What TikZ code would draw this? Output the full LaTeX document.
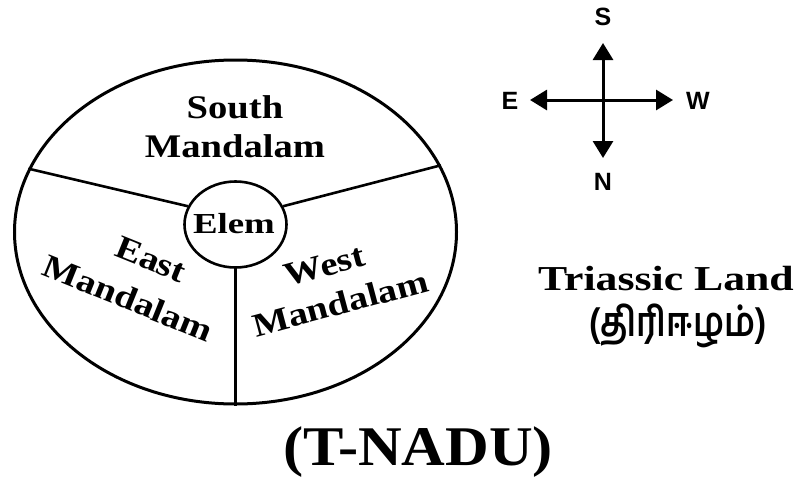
\documentclass[tikz,border=0pt]{standalone}
\usepackage{fontspec}
\setmainfont{Liberation Serif}
\newfontfamily\compassfont{Liberation Sans}
\newfontfamily\tamilfont[Script=Tamil]{Hind Madurai}
\usetikzlibrary{shapes.geometric,arrows.meta}
\newcommand\hstretch[2]{\scalebox{#1}[1]{#2}}
\begin{document}
\begin{tikzpicture}[x=1pt,y=-1pt,
  region/.style={font=\bfseries\fontsize{33}{39}\selectfont, inner sep=0pt, align=center},
  elemtext/.style={font=\bfseries\fontsize{29}{32}\selectfont, inner sep=0pt},
  compass/.style={font=\compassfont\bfseries\fontsize{25}{27}\selectfont, inner sep=0pt},
  arr/.style={line width=3pt, -{Triangle[length=17pt,width=20pt]}},
  divider/.style={line width=2.6pt}]
\useasboundingbox (0,0) rectangle (800,479);
\fill[white] (0,0) rectangle (800,479);

% main land
\node[draw, ellipse, line width=3pt, minimum width=442pt, minimum height=344pt, inner sep=0pt] (land) at (235.5,232) {};
\node[draw, ellipse, line width=2.6pt, minimum width=102pt, minimum height=86pt, inner sep=0pt] (hub) at (235.5,224.5) {};
\draw[divider] (hub.159) -- (land.163);
\draw[divider] (hub.21) -- (land.18);
\draw[divider] (hub.south) -- (land.south);

\node[elemtext, anchor=base] (elem) at (234,233) {\hstretch{1.27}{Elem}};
\node[region, anchor=base] (south) at (235,157) {\hstretch{1.17}{South}\\\hstretch{1.17}{Mandalam}};
\node[region, rotate=-22, font=\bfseries\fontsize{33}{45}\selectfont] (east) at (136.5,278)
  {\hspace*{13pt}\hstretch{1.17}{East}\\\hstretch{1.17}{Mandalam}};
\node[region, rotate=15, font=\bfseries\fontsize{33}{41}\selectfont] (west) at (335,284)
  {\hstretch{1.17}{West}\hspace*{11pt}\\\hstretch{1.17}{Mandalam}};

% compass
\coordinate (ctr) at (603,100);
\coordinate (tipS) at (603,43);
\coordinate (tipN) at (603,158);
\coordinate (tipE) at (530,100);
\coordinate (tipW) at (673,100);
\draw[arr] (ctr) -- (tipS);
\draw[arr] (ctr) -- (tipN);
\draw[arr] (ctr) -- (tipE);
\draw[arr] (ctr) -- (tipW);
\node[compass] (lS) at (603,17) {S};
\node[compass] (lN) at (603,182) {N};
\node[compass] (lE) at (510,101) {E};
\node[compass] (lW) at (698,101) {W};

% titles
\node[font=\bfseries\fontsize{35}{38}\selectfont, inner sep=0pt, anchor=base] (tl) at (666,290) {\hstretch{1.25}{Triassic Land}};
\node[inner sep=0pt] (tamil) at (678,326) {\resizebox*{177pt}{44pt}{\tamilfont\bfseries (திரிஈழம்)}};
\node[font=\bfseries\fontsize{56}{60}\selectfont, inner sep=0pt, anchor=base] (tnadu) at (418,465) {\hstretch{1.08}{(T-NADU)}};
\end{tikzpicture}
\end{document}
